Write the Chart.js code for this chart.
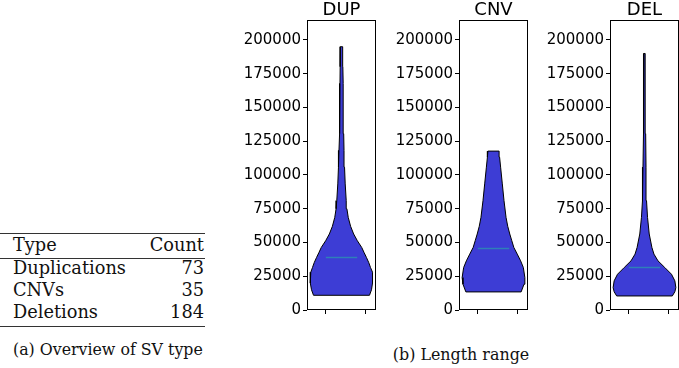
<!DOCTYPE html>
<html><head><meta charset="utf-8">
<script src="https://cdn.jsdelivr.net/npm/chart.js@4/dist/chart.umd.min.js"></script>
<style>
html,body{margin:0;padding:0;background:#fff;width:679px;height:368px;overflow:hidden;position:relative}
canvas{position:absolute;top:0}
.t{position:absolute;font-family:'DejaVu Serif',serif;color:#111;white-space:nowrap;line-height:1}
.rule{position:absolute;left:0;width:205px;background:#333}
</style></head><body>
<script>
// ---------- data ----------
const panelTitles = ['DUP', 'CNV', 'DEL'];
const dupLength = [10900, 15000, 20000, 24000, 28000, 31500, 35000, 38900, 42500, 46300, 51300, 56300, 62000, 68600, 75000, 81000, 93400, 105800, 118200, 130600, 143000, 155400, 167800, 180200, 195000];
const dupWidth  = [83, 89, 92, 93, 91, 86, 81, 74, 67, 60, 47, 36, 27, 20, 16, 14, 11, 9, 7.5, 6.5, 5.5, 5, 4.5, 4, 3.5];
const cnvLength = [13400, 19100, 24000, 31500, 36400, 41400, 46300, 51300, 56300, 62000, 68600, 81000, 93400, 105800, 113200, 117700];
const cnvWidth  = [81.5, 90, 92.5, 88, 80, 70, 60, 54, 48, 42, 37, 31, 26, 21, 18, 16.5];
const delLength = [10400, 13500, 16600, 21600, 26500, 31500, 36400, 41400, 46300, 56300, 68600, 81000, 105800, 130600, 155400, 190000];
const delWidth  = [82.5, 90, 93, 90, 80, 60, 40, 28, 22, 14, 9, 6, 4.5, 3.5, 2.5, 1.5];
const medians   = [38900, 45600, 31500];
const yTicks    = [0, 25000, 50000, 75000, 100000, 125000, 150000, 175000, 200000];
const xTickPos  = [-0.5, 0.75];
const tableHeader = ['Type', 'Count'];
const tableTypes  = ['Duplications', 'CNVs', 'Deletions'];
const tableCounts = [73, 35, 184];
const captionA = '(a) Overview of SV type';
const captionB = '(b) Length range';
// ---------------------------

const series = [[dupLength, dupWidth], [cnvLength, cnvWidth], [delLength, delWidth]];
const boxLefts = [307, 459, 610];
const AXW = 80;

const frame = {id: 'frame', afterDraw(c) {
  const a = c.chartArea, x = c.ctx;
  x.save(); x.strokeStyle = '#000'; x.lineWidth = 1;
  x.strokeRect(a.left + 0.5, a.top + 0.5, a.right - a.left - 1, a.bottom - a.top - 1);
  x.restore();
}};

series.forEach(([len, wid], i) => {
  const mx = Math.max(...wid);
  const right = len.map((l, k) => ({x: wid[k] / mx, y: l}));
  const left = len.map((l, k) => ({x: -wid[k] / mx, y: l})).reverse();
  const poly = [...right, ...left, right[0]];
  const cv = document.createElement('canvas');
  cv.width = AXW + 70; cv.height = 331;
  cv.style.left = (boxLefts[i] - AXW) + 'px';
  cv.style.width = cv.width + 'px'; cv.style.height = cv.height + 'px';
  document.body.appendChild(cv);
  new Chart(cv, {
    type: 'scatter',
    data: {datasets: [
      {data: [{x: -0.5, y: medians[i]}, {x: 0.5, y: medians[i]}], showLine: true, borderColor: '#2f7fb8', borderWidth: 1.5, pointRadius: 0, fill: false, order: 0},
      {data: poly, showLine: true, borderColor: '#000', borderWidth: 1, backgroundColor: '#3d3dd5', fill: 'shape', pointRadius: 0, tension: 0, order: 1}
    ]},
    options: {
      responsive: false, animation: false, events: [],
      layout: {padding: {left: 0, right: 1, top: 0, bottom: 0}},
      plugins: {
        legend: {display: false}, tooltip: {enabled: false},
        title: {display: true, text: panelTitles[i], fullSize: false, padding: 0, color: '#000',
          font: {family: 'DejaVu Sans', size: 18, lineHeight: 20 / 18, weight: 'normal'}}
      },
      scales: {
        x: {type: 'linear', min: -1.1, max: 1.1,
          afterBuildTicks: s => { s.ticks = xTickPos.map(v => ({value: v})); },
          afterFit: s => { s.height = 21; },
          ticks: {display: false},
          grid: {drawOnChartArea: false, drawTicks: true, tickLength: 4, color: '#000'},
          border: {display: false}},
        y: {min: 0, max: 214800,
          afterBuildTicks: s => { s.ticks = yTicks.map(v => ({value: v})); },
          afterFit: s => { s.width = AXW; },
          ticks: {callback: v => String(v), color: '#000', padding: 2, autoSkip: false,
            font: {family: 'DejaVu Sans', size: 15}},
          grid: {drawOnChartArea: false, drawTicks: true, tickLength: 4, color: '#000'},
          border: {display: false}}
      }
    },
    plugins: [frame]
  });
});

// ---------- table (a) ----------
const mctx = document.createElement('canvas').getContext('2d');
function fitSize(text, width) {
  mctx.font = '100px "DejaVu Serif"';
  return 100 * width / mctx.measureText(text).width;
}
const S = fitSize('Duplications', 113);
function place(text, x, baseline, size, align) {
  const d = document.createElement('div');
  d.className = 't';
  d.textContent = text;
  d.style.fontSize = size + 'px';
  d.style.top = (baseline - 0.846 * size) + 'px';
  if (align === 'right') d.style.right = (679 - x) + 'px';
  else if (align === 'center') { d.style.left = x + 'px'; d.style.transform = 'translateX(-50%)'; }
  else d.style.left = x + 'px';
  document.body.appendChild(d);
}
function rule(y, h) {
  const r = document.createElement('div');
  r.className = 'rule'; r.style.top = y + 'px'; r.style.height = h + 'px';
  document.body.appendChild(r);
}
rule(232.5, 1.3);
rule(257.7, 0.8);
rule(325.5, 1.3);
place(tableHeader[0], 13, 252.5, S, 'left');
place(tableHeader[1], 204, 252.5, S, 'right');
tableTypes.forEach((t, k) => {
  place(t, 13, 275 + 22 * k, S, 'left');
  place(String(tableCounts[k]), 204, 275 + 22 * k, S, 'right');
});
place(captionA, 13, 355, fitSize(captionA, 190), 'left');
place(captionB, 461, 360, fitSize(captionB, 136.5), 'center');
</script>
</body></html>
